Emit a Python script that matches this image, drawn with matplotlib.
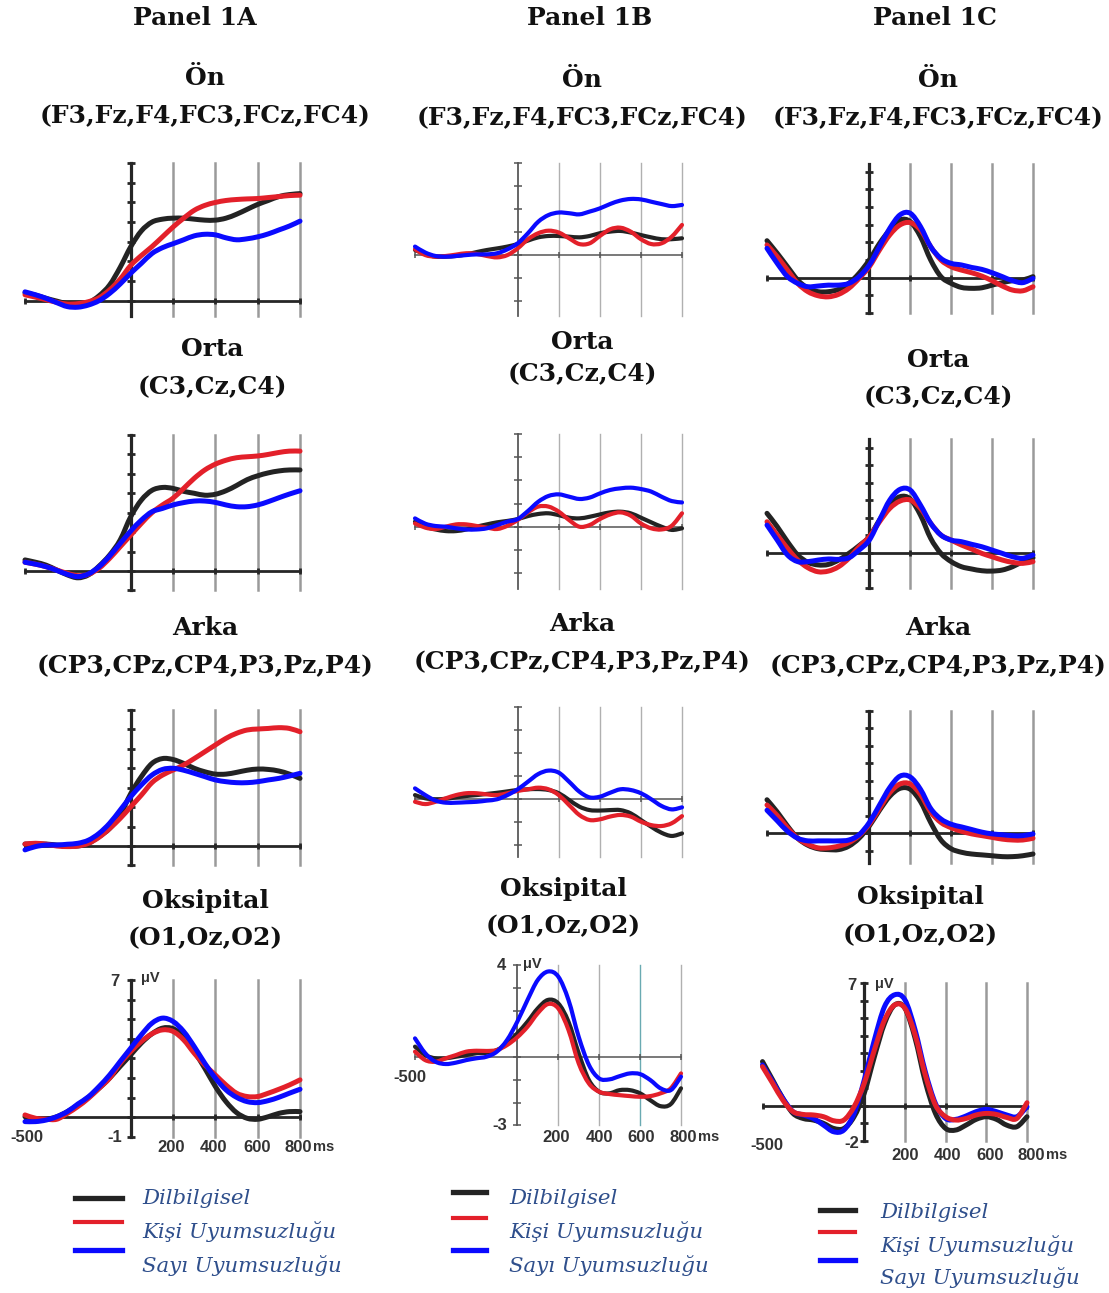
import numpy as np
import matplotlib
matplotlib.use("Agg")
import matplotlib.pyplot as plt
from matplotlib.path import Path
from matplotlib.patches import PathPatch

W, H = 1109, 1293

# time axis (ms)
times = list(range(-500, 801, 50))

# ---- Panel 1A ----
on_A_dil = [0.4, 0.28, 0.12, -0.02, -0.15, -0.18, -0.1, 0.25, 0.8, 1.7, 2.75, 3.55, 4.0, 4.15, 4.2, 4.2, 4.15, 4.1, 4.1, 4.2, 4.4, 4.65, 4.9, 5.1, 5.3, 5.4, 5.45]
on_A_kisi = [0.3, 0.18, 0.05, -0.08, -0.17, -0.15, -0.05, 0.15, 0.55, 1.1, 1.8, 2.3, 2.75, 3.25, 3.75, 4.2, 4.6, 4.85, 5.0, 5.1, 5.15, 5.18, 5.2, 5.25, 5.3, 5.35, 5.37]
on_A_sayi = [0.45, 0.3, 0.12, -0.1, -0.3, -0.33, -0.22, 0.0, 0.37, 0.85, 1.4, 1.9, 2.4, 2.7, 2.9, 3.1, 3.3, 3.38, 3.35, 3.2, 3.1, 3.15, 3.25, 3.4, 3.6, 3.8, 4.05]

orta_A_dil = [0.57, 0.45, 0.3, 0.05, -0.2, -0.35, -0.2, 0.25, 0.82, 1.6, 2.8, 3.65, 4.15, 4.3, 4.25, 4.1, 4.0, 3.9, 3.95, 4.13, 4.4, 4.7, 4.9, 5.05, 5.15, 5.2, 5.2]
orta_A_kisi = [0.45, 0.35, 0.22, 0.05, -0.12, -0.24, -0.17, 0.14, 0.65, 1.25, 1.85, 2.45, 3.0, 3.4, 3.75, 4.25, 4.77, 5.2, 5.5, 5.7, 5.83, 5.88, 5.92, 6.0, 6.1, 6.17, 6.17]
orta_A_sayi = [0.45, 0.35, 0.22, 0.03, -0.17, -0.29, -0.15, 0.22, 0.77, 1.42, 2.06, 2.62, 3.05, 3.22, 3.4, 3.52, 3.6, 3.6, 3.53, 3.4, 3.31, 3.31, 3.4, 3.57, 3.77, 3.96, 4.13]

arka_A_dil = [0.1, 0.1, 0.1, 0.05, 0.02, 0.0, 0.14, 0.48, 0.9, 1.6, 2.7, 3.57, 4.25, 4.5, 4.45, 4.25, 4.0, 3.82, 3.7, 3.7, 3.79, 3.9, 3.96, 3.94, 3.86, 3.7, 3.48]
arka_A_kisi = [0.1, 0.14, 0.09, 0.0, -0.03, 0.0, 0.14, 0.45, 0.9, 1.42, 2.02, 2.62, 3.26, 3.65, 3.91, 4.17, 4.5, 4.85, 5.2, 5.54, 5.8, 5.97, 6.02, 6.05, 6.09, 6.05, 5.88]
arka_A_sayi = [-0.2, -0.03, 0.05, 0.05, 0.09, 0.14, 0.3, 0.65, 1.17, 1.85, 2.54, 3.14, 3.65, 3.94, 4.0, 3.9, 3.74, 3.57, 3.4, 3.31, 3.26, 3.26, 3.31, 3.4, 3.48, 3.6, 3.74]

oks_A_dil = [0.03, -0.08, -0.1, 0.03, 0.29, 0.63, 1.02, 1.48, 2.0, 2.6, 3.19, 3.79, 4.26, 4.55, 4.52, 4.12, 3.36, 2.5, 1.57, 0.8, 0.24, -0.05, -0.1, 0.03, 0.2, 0.29, 0.29]
oks_A_kisi = [0.12, -0.05, -0.1, -0.1, 0.2, 0.55, 0.97, 1.48, 2.0, 2.76, 3.36, 3.87, 4.26, 4.46, 4.38, 3.95, 3.27, 2.67, 2.16, 1.65, 1.23, 1.06, 1.06, 1.23, 1.43, 1.65, 1.91]
oks_A_sayi = [-0.22, -0.22, -0.14, 0.03, 0.29, 0.68, 1.05, 1.57, 2.16, 2.85, 3.53, 4.21, 4.8, 5.06, 4.89, 4.38, 3.61, 2.76, 2.0, 1.4, 1.02, 0.8, 0.75, 0.85, 1.02, 1.23, 1.43]

# ---- Panel 1B ----
on_B_dil = [0.23, 0.06, -0.06, -0.06, -0.03, 0.04, 0.14, 0.23, 0.3, 0.38, 0.49, 0.64, 0.78, 0.84, 0.84, 0.81, 0.78, 0.84, 0.96, 1.03, 1.06, 0.99, 0.88, 0.78, 0.7, 0.7, 0.74]
on_B_kisi = [0.26, 0.01, -0.06, -0.03, 0.03, 0.09, 0.06, -0.03, -0.09, 0.01, 0.3, 0.7, 0.96, 1.07, 0.99, 0.74, 0.49, 0.52, 0.84, 1.13, 1.2, 1.03, 0.7, 0.49, 0.52, 0.81, 1.32]
on_B_sayi = [0.38, 0.12, -0.03, -0.06, -0.03, 0.01, 0.04, 0.04, 0.09, 0.26, 0.52, 0.96, 1.46, 1.75, 1.86, 1.83, 1.78, 1.9, 2.04, 2.23, 2.38, 2.45, 2.43, 2.33, 2.23, 2.14, 2.19]

orta_B_dil = [0.22, 0.0, -0.12, -0.19, -0.19, -0.12, 0.0, 0.1, 0.19, 0.25, 0.33, 0.46, 0.55, 0.58, 0.5, 0.39, 0.36, 0.43, 0.53, 0.62, 0.65, 0.58, 0.39, 0.19, 0.0, -0.14, -0.07]
orta_B_kisi = [0.14, -0.04, -0.1, 0.0, 0.1, 0.1, 0.03, -0.04, -0.1, 0.04, 0.29, 0.62, 0.87, 0.87, 0.65, 0.29, 0.0, 0.07, 0.33, 0.53, 0.62, 0.48, 0.14, -0.07, -0.12, 0.04, 0.58]
orta_B_sayi = [0.36, 0.13, 0.03, 0.0, -0.07, -0.12, -0.12, -0.07, 0.07, 0.22, 0.33, 0.68, 1.08, 1.33, 1.4, 1.3, 1.2, 1.26, 1.44, 1.59, 1.66, 1.69, 1.63, 1.52, 1.3, 1.11, 1.05]

arka_B_dil = [0.17, 0.03, -0.01, 0.01, 0.07, 0.13, 0.17, 0.22, 0.27, 0.33, 0.39, 0.42, 0.43, 0.39, 0.25, -0.04, -0.33, -0.48, -0.5, -0.48, -0.48, -0.62, -0.91, -1.2, -1.46, -1.6, -1.49]
arka_B_kisi = [-0.12, -0.22, -0.12, 0.03, 0.17, 0.25, 0.25, 0.2, 0.17, 0.25, 0.35, 0.42, 0.49, 0.42, 0.17, -0.26, -0.69, -0.91, -0.88, -0.76, -0.69, -0.76, -0.98, -1.13, -1.17, -1.05, -0.74]
arka_B_sayi = [0.46, 0.17, -0.07, -0.16, -0.16, -0.14, -0.12, -0.07, -0.01, 0.17, 0.42, 0.75, 1.08, 1.23, 1.14, 0.75, 0.32, 0.07, 0.1, 0.27, 0.42, 0.39, 0.25, -0.01, -0.3, -0.45, -0.36]

oks_B_dil = [0.44, 0.07, -0.07, -0.07, 0.0, 0.07, 0.15, 0.17, 0.29, 0.58, 1.02, 1.53, 2.11, 2.48, 2.33, 1.53, 0.15, -1.02, -1.53, -1.6, -1.46, -1.46, -1.6, -1.9, -2.16, -2.07, -1.38]
oks_B_kisi = [0.22, -0.15, -0.22, -0.07, 0.07, 0.22, 0.26, 0.25, 0.29, 0.51, 0.85, 1.31, 1.9, 2.3, 2.11, 1.17, -0.29, -1.17, -1.53, -1.63, -1.68, -1.72, -1.75, -1.72, -1.6, -1.38, -0.73]
oks_B_sayi = [0.8, 0.15, -0.22, -0.32, -0.26, -0.15, -0.07, 0.0, 0.22, 0.73, 1.53, 2.48, 3.35, 3.72, 3.5, 2.48, 0.87, -0.36, -0.95, -0.99, -0.85, -0.73, -0.76, -1.02, -1.38, -1.46, -0.87]

# ---- Panel 1C ----
on_C_dil = [2.09, 1.38, 0.62, -0.13, -0.6, -0.79, -0.79, -0.66, -0.32, 0.25, 1.0, 1.94, 2.7, 3.26, 3.17, 2.32, 1.0, 0.06, -0.32, -0.55, -0.6, -0.57, -0.42, -0.28, -0.17, -0.13, 0.06]
on_C_kisi = [1.85, 1.19, 0.43, -0.32, -0.79, -1.02, -1.08, -0.94, -0.6, -0.04, 0.62, 1.57, 2.42, 2.98, 3.11, 2.7, 1.75, 1.0, 0.62, 0.43, 0.28, 0.09, -0.17, -0.47, -0.7, -0.74, -0.51]
on_C_sayi = [1.66, 0.81, 0.06, -0.32, -0.51, -0.47, -0.42, -0.42, -0.32, 0.06, 0.72, 1.75, 2.79, 3.55, 3.64, 2.89, 1.75, 1.09, 0.81, 0.72, 0.58, 0.47, 0.28, 0.06, -0.17, -0.28, -0.04]

orta_C_dil = [2.25, 1.49, 0.63, -0.13, -0.55, -0.7, -0.67, -0.42, -0.04, 0.4, 0.91, 1.87, 2.72, 3.2, 3.07, 2.15, 0.82, -0.04, -0.51, -0.8, -0.93, -1.03, -1.05, -0.99, -0.8, -0.51, -0.29]
orta_C_kisi = [1.77, 1.01, 0.25, -0.42, -0.86, -1.09, -1.05, -0.8, -0.32, 0.34, 0.91, 1.77, 2.53, 2.95, 3.01, 2.53, 1.68, 1.01, 0.72, 0.44, 0.21, -0.04, -0.23, -0.42, -0.55, -0.61, -0.51]
orta_C_sayi = [1.58, 0.72, -0.13, -0.51, -0.51, -0.42, -0.36, -0.38, -0.29, 0.15, 0.72, 1.87, 3.01, 3.62, 3.58, 2.72, 1.68, 1.01, 0.72, 0.63, 0.48, 0.34, 0.15, -0.04, -0.23, -0.32, -0.13]

arka_C_dil = [1.9, 1.2, 0.4, -0.3, -0.7, -0.9, -0.95, -0.95, -0.75, -0.3, 0.4, 1.3, 2.1, 2.55, 2.5, 1.8, 0.6, -0.4, -0.9, -1.1, -1.2, -1.25, -1.3, -1.35, -1.35, -1.3, -1.2]
arka_C_kisi = [1.6, 1.0, 0.3, -0.3, -0.65, -0.85, -0.85, -0.75, -0.55, -0.15, 0.5, 1.4, 2.3, 2.8, 2.8, 2.2, 1.2, 0.6, 0.3, 0.1, -0.05, -0.15, -0.25, -0.35, -0.4, -0.4, -0.3]
arka_C_sayi = [1.3, 0.7, 0.1, -0.3, -0.45, -0.45, -0.45, -0.45, -0.4, -0.1, 0.6, 1.6, 2.6, 3.25, 3.2, 2.5, 1.4, 0.8, 0.5, 0.35, 0.2, 0.05, -0.05, -0.1, -0.15, -0.15, -0.05]

oks_C_dil = [2.52, 1.47, 0.42, -0.44, -0.73, -0.82, -1.01, -1.3, -1.3, -0.63, 0.71, 2.8, 4.71, 5.76, 5.57, 3.85, 1.37, -0.44, -1.3, -1.39, -1.11, -0.78, -0.63, -0.78, -1.11, -1.2, -0.63]
oks_C_kisi = [2.23, 1.28, 0.32, -0.34, -0.5, -0.53, -0.63, -0.86, -0.82, -0.06, 1.28, 3.19, 4.9, 5.76, 5.57, 4.05, 1.76, 0.04, -0.63, -0.82, -0.73, -0.53, -0.44, -0.5, -0.67, -0.73, 0.17]
oks_C_sayi = [2.33, 1.37, 0.42, -0.34, -0.53, -0.73, -1.11, -1.49, -1.39, -0.44, 1.47, 3.76, 5.67, 6.34, 6.05, 4.33, 1.95, 0.13, -0.73, -0.78, -0.59, -0.34, -0.21, -0.34, -0.53, -0.63, -0.06]

panel_titles = ["Panel 1A", "Panel 1B", "Panel 1C"]
region_names = ["Ön", "Orta", "Arka", "Oksipital"]
region_sites = ["(F3,Fz,F4,FC3,FCz,FC4)", "(C3,Cz,C4)", "(CP3,CPz,CP4,P3,Pz,P4)", "(O1,Oz,O2)"]
legend_labels = ["Dilbilgisel", "Kişi Uyumsuzluğu", "Sayı Uyumsuzluğu"]
x_ticks = [200, 400, 600, 800]

BLACK = "#232323"
RED = "#e3202a"
BLUE = "#0a0aff"
TXT = "#2f4f8c"

fig = plt.figure(figsize=(W / 100, H / 100), dpi=100)


def add_px_axes(xl, xr, zero, ppu, ytop, ybot):
    yt = zero - ytop * ppu
    yb = zero - ybot * ppu
    ax = fig.add_axes([xl / W, 1 - yb / H, (xr - xl) / W, (yb - yt) / H])
    ax.set_xlim(-500, 800)
    ax.set_ylim(ybot, ytop)
    ax.axis("off")
    return ax


def smooth_path(xs, ys):
    # bezier path through the points (catmull-rom style control points)
    p = np.column_stack([xs, ys]).astype(float)
    ext = np.vstack([p[0], p, p[-1]])
    verts = [p[0]]
    codes = [Path.MOVETO]
    for i in range(len(p) - 1):
        p0, p1, p2, p3 = ext[i], ext[i + 1], ext[i + 2], ext[i + 3]
        verts += [p1 + (p2 - p0) / 6, p2 - (p3 - p1) / 6, p2]
        codes += [Path.CURVE4] * 3
    return Path(verts, codes)


def draw_panel(ax, series, thin=False, red_on_top=False, teal600=False):
    ybot, ytop = ax.get_ylim()
    grid_c = "#b0b0b0" if thin else "#9a9a9a"
    grid_w = 1.0 if thin else 1.8
    axis_c = "#555555" if thin else "#262626"
    axis_w = 1.1 if thin else 2.0
    for t in x_ticks:
        c = "#6aaab2" if (teal600 and t == 600) else grid_c
        ax.plot([t, t], [ybot, ytop], color=c, lw=grid_w, zorder=1, clip_on=False)
    ax.plot([-500, 800], [0, 0], color=axis_c, lw=axis_w, zorder=2, clip_on=False)
    ax.plot([0, 0], [ybot, ytop], color=axis_c, lw=axis_w * 1.15, zorder=2, clip_on=False)
    yt = list(range(int(np.ceil(ybot)), int(np.floor(ytop)) + 1))
    ax.plot([0] * len(yt), yt, ls="none", marker="_", ms=6, mew=axis_w,
            color=axis_c, zorder=2, clip_on=False)
    ax.plot([-500] + x_ticks, [0] * 5, ls="none", marker="|", ms=5, mew=axis_w,
            color=axis_c, zorder=2, clip_on=False)
    lw = 3.0 if thin else 3.6
    dil, kisi, sayi = series
    if red_on_top:
        order = [(dil, BLACK), (sayi, BLUE), (kisi, RED)]
    else:
        order = [(dil, BLACK), (kisi, RED), (sayi, BLUE)]
    for k, (vals, col) in enumerate(order):
        patch = PathPatch(smooth_path(times, vals), fill=False, edgecolor=col, lw=lw,
                          capstyle="round", joinstyle="round", zorder=3 + k,
                          transform=ax.transData, clip_on=False)
        ax.add_patch(patch)


# panel geometry in pixels: x(-500), x(800), y(0), px per uV, top, bottom
specs = {
    "A": [(25, 300, 300.7, 19.65, 7, -0.8), (25, 300, 571, 19.43, 7, -1.0),
          (25, 300, 846, 19.43, 7, -1.0), (25, 300, 1117.3, 19.6, 7, -1)],
    "B": [(415, 682, 255.3, 23.0, 4, -2.65), (415, 682, 526.7, 23.1, 4, -2.7),
          (415, 682, 799, 23.1, 4, -2.5), (415, 681, 1056.7, 22.9, 4, -3)],
    "C": [(767, 1033, 277.7, 17.7, 6.4, -2), (767, 1033, 552.7, 17.5, 6.5, -2),
          (767, 1033, 833, 17.5, 7, -1.7), (762.5, 1027, 1105.7, 17.5, 7, -2)],
}
data = {
    "A": [(on_A_dil, on_A_kisi, on_A_sayi), (orta_A_dil, orta_A_kisi, orta_A_sayi),
          (arka_A_dil, arka_A_kisi, arka_A_sayi), (oks_A_dil, oks_A_kisi, oks_A_sayi)],
    "B": [(on_B_dil, on_B_kisi, on_B_sayi), (orta_B_dil, orta_B_kisi, orta_B_sayi),
          (arka_B_dil, arka_B_kisi, arka_B_sayi), (oks_B_dil, oks_B_kisi, oks_B_sayi)],
    "C": [(on_C_dil, on_C_kisi, on_C_sayi), (orta_C_dil, orta_C_kisi, orta_C_sayi),
          (arka_C_dil, arka_C_kisi, arka_C_sayi), (oks_C_dil, oks_C_kisi, oks_C_sayi)],
}

for col in "ABC":
    for r in range(4):
        ax = add_px_axes(*specs[col][r])
        draw_panel(ax, data[col][r], thin=(col == "B"),
                   red_on_top=(col == "C" and r == 3),
                   teal600=(col == "B" and r == 3))


def ftext(x, y, s, **kw):
    fig.text(x / W, 1 - y / H, s, **kw)


title_font = dict(family="DejaVu Serif", weight="bold", fontsize=18,
                  ha="center", va="center", color="#111111")
for s, x in zip(panel_titles, [195, 590, 935]):
    ftext(x, 18, s, **title_font)

# region headers: (x, y of name, y of sites)
heads = {
    "A": [(205, 78, 116), (212, 349, 387), (205, 628, 666), (205, 901, 938)],
    "B": [(582, 80, 118), (582, 342, 374), (582, 624, 662), (563, 889, 926)],
    "C": [(938, 80, 118), (938, 360, 397), (938, 628, 666), (920, 897, 935)],
}
for col in "ABC":
    for r in range(4):
        x, y1, y2 = heads[col][r]
        ftext(x, y1, region_names[r], **title_font)
        ftext(x, y2, region_sites[r], **title_font)

# tick labels of the occipital panels
tick_font = dict(family=["Liberation Sans Narrow", "Liberation Sans"], weight="bold",
                 fontsize=12, color="#333333", va="center")
small_font = dict(family=["Liberation Sans Narrow", "Liberation Sans"], weight="bold",
                  fontsize=10.5, color="#333333", va="center")
oks_labels = {
    "A": dict(top=("7", 115, 982), uv=(150, 978), m500=(27, 1137), bot=("-1", 115, 1137),
              xt_y=1147, xs=[171, 214, 257, 298]),
    "B": dict(top=("4", 501, 966), uv=(532, 964), m500=(410, 1077), bot=("-3", 500, 1125),
              xt_y=1137, xs=[556, 599, 641, 683]),
    "C": dict(top=("7", 852, 985), uv=(884, 984), m500=(767, 1145), bot=("-2", 852, 1143),
              xt_y=1155, xs=[905, 948, 990, 1031]),
}
for col in "ABC":
    d = oks_labels[col]
    ftext(d["top"][1], d["top"][2], d["top"][0], ha="center", **tick_font)
    ftext(d["uv"][0], d["uv"][1], "μV", ha="center", **small_font)
    ftext(d["m500"][0], d["m500"][1], "-500", ha="center", **tick_font)
    ftext(d["bot"][1], d["bot"][2], d["bot"][0], ha="center", **tick_font)
    for t, x in zip(x_ticks, d["xs"]):
        ftext(x, d["xt_y"], str(t), ha="center", **tick_font)
    ftext(d["xs"][-1] + 15, d["xt_y"], "ms", ha="left", **small_font)

# legends
leg = {
    "A": dict(lx=(75, 122), ly=[1198, 1222, 1250], tx=142, ty=[1198, 1232, 1265]),
    "B": dict(lx=(453, 486), ly=[1192, 1218, 1250], tx=509, ty=[1199, 1232, 1265]),
    "C": dict(lx=(820, 855), ly=[1210, 1232, 1260], tx=880, ty=[1212, 1245, 1278]),
}
for col in "ABC":
    d = leg[col]
    for k, (c, lw) in enumerate([(BLACK, 3.8), (RED, 3.0), (BLUE, 3.8)]):
        y = 1 - d["ly"][k] / H
        fig.add_artist(plt.Line2D([d["lx"][0] / W, d["lx"][1] / W], [y, y],
                                  color=c, lw=lw, transform=fig.transFigure))
        ftext(d["tx"], d["ty"][k], legend_labels[k], family="DejaVu Serif",
              style="italic", fontsize=15.3, color=TXT, ha="left", va="center")

fig.savefig("out.png", dpi=100, facecolor="white")
